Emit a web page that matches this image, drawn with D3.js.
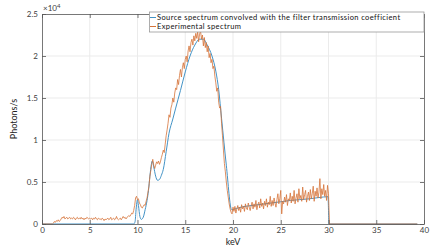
<!DOCTYPE html>
<html>
<head>
<meta charset="utf-8">
<script src="https://d3js.org/d3.v7.min.js"></script>
<style>
  body { margin: 0; background: #fff; }
  text { font-family: Lato, "Open Sans", sans-serif; }
</style>
</head>
<body>
<div id="chart"></div>
<script>
// tick labels
var xTicks = [0, 5, 10, 15, 20, 25, 30, 35, 40];
var yTicks = [0, 0.5, 1, 1.5, 2, 2.5];
var seriesNames = ["Source spectrum convolved with the filter transmission coefficient", "Experimental spectrum"];

// source spectrum (x1e4 photons/s) at [keV, value]
var sourceCurve = [
  [0, 0], [9.6, 0], [9.75, 0.03], [9.85, 0.17], [10.0, 0.29], [10.1, 0.22], [10.25, 0.09],
  [10.4, 0.055], [10.6, 0.08], [10.8, 0.17], [11.0, 0.28], [11.15, 0.4], [11.3, 0.57],
  [11.45, 0.71], [11.55, 0.75], [11.7, 0.68], [11.9, 0.57], [12.1, 0.52], [12.3, 0.53],
  [12.5, 0.58], [12.7, 0.65], [13.0, 0.86], [13.3, 1.08], [13.7, 1.25], [14.0, 1.38],
  [14.5, 1.59], [15.0, 1.81], [15.5, 2.0], [16.0, 2.13], [16.5, 2.2], [16.9, 2.2],
  [17.3, 2.13], [17.8, 2.0], [18.2, 1.82], [18.5, 1.6], [18.8, 1.26], [19.3, 0.7],
  [19.86, 0.17], [20.5, 0.19], [21, 0.205], [22, 0.22], [23, 0.235], [24, 0.25],
  [25, 0.265], [26, 0.28], [27, 0.29], [28, 0.3], [29, 0.315], [29.95, 0.325],
  [30.05, 0], [39.3, 0]
];

// experimental spectrum, 1.2 keV to 30.0 keV in 0.1 keV steps
var expStart = 1.2, expStep = 0.1;
var expValues = [
  0.01,0.03,0.02,0.04,0.03,0.05,0.03,0.04,0.06,
  0.08,0.07,0.09,0.06,0.07,0.08,0.06,0.07,0.08,0.06,
  0.07,0.06,0.08,0.07,0.05,0.07,0.08,0.06,0.07,0.06,
  0.08,0.06,0.07,0.05,0.07,0.06,0.08,0.07,0.06,0.07,
  0.06,0.07,0.05,0.07,0.06,0.08,0.06,0.05,0.07,0.06,
  0.06,0.05,0.07,0.06,0.04,0.06,0.05,0.06,0.07,0.05,
  0.06,0.08,0.05,0.06,0.07,0.05,0.06,0.09,0.06,0.05,
  0.06,0.07,0.05,0.07,0.09,0.07,0.08,0.06,0.08,0.09,
  0.10,0.09,0.11,0.13,0.12,0.16,0.22,0.31,0.33,0.29,
  0.30,0.25,0.23,0.20,0.19,0.21,0.23,0.22,0.27,0.31,
  0.38,0.45,0.57,0.64,0.72,0.77,0.70,0.66,0.70,0.74,
  0.72,0.75,0.71,0.74,0.79,0.83,0.88,0.85,0.95,1.05,
  1.12,1.20,1.30,1.27,1.38,1.42,1.50,1.45,1.56,1.62,
  1.60,1.72,1.66,1.77,1.84,1.75,1.86,1.92,1.85,1.96,
  2.00,1.93,2.06,2.12,2.05,2.16,2.20,2.13,2.24,2.18,
  2.27,2.21,2.29,2.17,2.26,2.30,2.20,2.25,2.12,2.22,
  2.10,2.16,2.05,2.12,1.98,2.03,1.92,1.96,1.85,1.88,
  1.76,1.68,1.58,1.62,1.45,1.38,1.40,1.20,1.05,0.88,
  0.72,0.62,0.50,0.40,0.32,0.24,0.18,0.14,0.12,0.20,
  0.15,0.21,0.13,0.18,0.22,0.16,0.20,0.14,0.23,0.18,
  0.21,0.15,0.24,0.19,0.17,0.25,0.20,0.16,0.22,0.26,
  0.18,0.24,0.20,0.28,0.17,0.23,0.26,0.19,0.30,0.21,
  0.25,0.18,0.27,0.22,0.30,0.20,0.26,0.23,0.33,0.21,
  0.28,0.22,0.31,0.25,0.20,0.29,0.36,0.24,0.30,0.40,
  0.12,0.27,0.24,0.32,0.26,0.35,0.22,0.30,0.28,0.37,
  0.25,0.33,0.27,0.40,0.24,0.31,0.36,0.26,0.42,0.30,
  0.34,0.27,0.44,0.29,0.35,0.40,0.26,0.33,0.38,0.28,
  0.41,0.30,0.36,0.45,0.27,0.39,0.33,0.43,0.31,0.38,
  0.54,0.30,0.42,0.35,0.47,0.33,0.40,0.28,0.46,0.36
];
var expLead = [[0, 0], [1.1, 0]];
var expTail = [[30.1, 0], [39.3, 0]];

var width = 439, height = 247;
var m = {left: 42, right: 15, top: 14, bottom: 23};

var svg = d3.select('#chart').append('svg')
  .attr('width', width).attr('height', height);
svg.append('rect').attr('width', width).attr('height', height).attr('fill', '#fff');

var x = d3.scaleLinear().domain([0, 40]).range([m.left, width - m.right]);
var y = d3.scaleLinear().domain([0, 2.5]).range([height - m.bottom, m.top]);

// grid
svg.append('g').selectAll('line').data(xTicks.slice(1, -1)).enter().append('line')
  .attr('x1', d => x(d)).attr('x2', d => x(d))
  .attr('y1', y(0)).attr('y2', y(2.5))
  .attr('stroke', '#ebebeb').attr('stroke-width', 1);
svg.append('g').selectAll('line').data(yTicks.slice(1, -1)).enter().append('line')
  .attr('x1', x(0)).attr('x2', x(40))
  .attr('y1', d => y(d)).attr('y2', d => y(d))
  .attr('stroke', '#ebebeb').attr('stroke-width', 1);

var blue = '#4393c6', orange = '#d5743a';

svg.append('path').datum(sourceCurve)
  .attr('d', d3.line().x(d => x(d[0])).y(d => y(d[1])).curve(d3.curveMonotoneX))
  .attr('fill', 'none').attr('stroke', blue).attr('stroke-width', 1);

var expData = expLead.concat(expValues.map((v, i) => [expStart + i * expStep, v]), expTail);
svg.append('path').datum(expData)
  .attr('d', d3.line().x(d => x(d[0])).y(d => y(d[1])))
  .attr('fill', 'none').attr('stroke', orange).attr('stroke-width', 0.8);

// axes (box with inward ticks)
var axisColor = '#555';
var tl = 4;
var bottomAx = d3.axisBottom(x).tickValues(xTicks).tickSizeInner(-tl).tickSizeOuter(0).tickPadding(3);
var topAx = d3.axisTop(x).tickValues(xTicks).tickSizeInner(-tl).tickSizeOuter(0).tickFormat('');
var leftAx = d3.axisLeft(y).tickValues(yTicks).tickSizeInner(-tl).tickSizeOuter(0).tickPadding(4).tickFormat(d3.format('~g'));
var rightAx = d3.axisRight(y).tickValues(yTicks).tickSizeInner(-tl).tickSizeOuter(0).tickFormat('');

function style(g) {
  g.select('.domain').attr('stroke', axisColor).attr('stroke-width', 0.8);
  g.selectAll('.tick line').attr('stroke', axisColor).attr('stroke-width', 0.8);
  g.selectAll('.tick text').attr('fill', '#404040').style('font-size', '8px').style('font-family', 'Lato, sans-serif');
}
svg.append('g').attr('transform', 'translate(0,' + y(0) + ')').call(bottomAx).call(style);
svg.append('g').attr('transform', 'translate(0,' + y(2.5) + ')').call(topAx).call(style);
svg.append('g').attr('transform', 'translate(' + x(0) + ',0)').call(leftAx).call(style);
svg.append('g').attr('transform', 'translate(' + x(40) + ',0)').call(rightAx).call(style);

// exponent
var ex = svg.append('text').attr('x', x(0) + 1).attr('y', y(2.5) - 3)
  .attr('fill', '#404040').style('font-size', '8px');
ex.append('tspan').text('\u00d710');
ex.append('tspan').attr('dy', -3).style('font-size', '6px').text('4');

// axis labels
svg.append('text').attr('x', x(20)).attr('y', 245).attr('text-anchor', 'middle')
  .attr('fill', '#222').style('font-size', '9px').text('keV');
svg.append('text').attr('transform', 'translate(17,' + y(1.25) + ') rotate(-90)')
  .attr('text-anchor', 'middle').attr('fill', '#222').style('font-size', '9px').text('Photons/s');

// legend
var lg = svg.append('g');
lg.append('rect').attr('x', 149.5).attr('y', 12).attr('width', x(40) - 149.5).attr('height', 20)
  .attr('fill', '#fff').attr('stroke', '#999').attr('stroke-width', 0.8);
var legColors = [blue, orange];
seriesNames.forEach(function(n, i) {
  var yy = 17.5 + i * 9;
  lg.append('line').attr('x1', 150).attr('x2', 156).attr('y1', yy).attr('y2', yy)
    .attr('stroke', legColors[i]).attr('stroke-width', 1);
  lg.append('text').attr('x', 157).attr('y', yy + 2.7).attr('fill', '#111')
    .style('font-size', '7.5px').style('letter-spacing', '0.4px').text(n);
});
</script>
</body>
</html>
